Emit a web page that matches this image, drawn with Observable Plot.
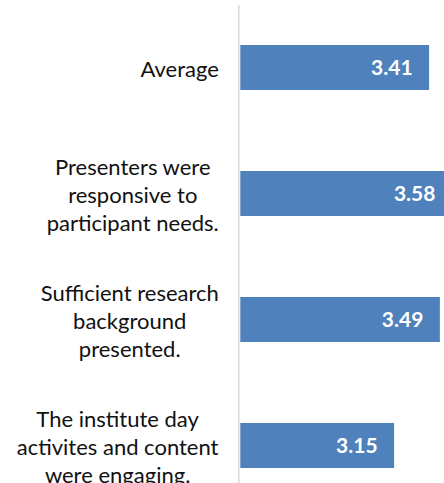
<!DOCTYPE html>
<html>
<head>
<meta charset="utf-8">
<script src="https://cdn.jsdelivr.net/npm/d3@7"></script>
<script src="https://cdn.jsdelivr.net/npm/@observablehq/plot@0.6"></script>
<style>
  html, body { margin: 0; padding: 0; background: #fff; overflow: hidden; }
  #chart svg { display: block; }
</style>
</head>
<body>
<div id="chart"></div>
<script>
const categories = [
  "Average",
  "Presenters were\nresponsive to\nparticipant needs.",
  "Sufficient research\nbackground\npresented.",
  "The institute day\nactivites and content\nwere engaging."
];
const values = [3.41, 3.58, 3.49, 3.15];
const axisMin = 2;
const axisMax = 4;

const data = categories.map((c, i) => ({ label: c, value: values[i] }));

const W = 444, H = 483;
const fontFamily = "Lato, 'Open Sans', sans-serif";

const chart = Plot.plot({
  width: W,
  height: H,
  marginTop: 5,
  marginBottom: 0,
  marginLeft: 239,
  marginRight: 0,
  style: { fontFamily, background: "#fff" },
  x: { domain: [axisMin, axisMax], range: [239.3, 508.5], axis: null },
  y: { domain: categories, range: [4.5, 508.5], paddingInner: 0.643, paddingOuter: 0.3215, align: 0.5, axis: null },
  marks: [
    Plot.ruleX([axisMin], { stroke: "#d9d9d9", strokeWidth: 1.5, dx: -1 }),
    Plot.barX(data, { x1: axisMin, x2: "value", y: "label", fill: "#4f81bd", insetLeft: 1 }),
    Plot.text(data, {
      x: "value", y: "label", text: d => d.value.toFixed(2),
      textAnchor: "end", dx: -17, fill: "white", fontWeight: "bold", fontSize: 21
    }),
    Plot.text(data, {
      x: axisMin, y: "label", text: "label",
      textAnchor: "end", dx: -21, lineAnchor: "middle", lineHeight: 1.29,
      fill: "#111", fontSize: 22, className: "cat-label"
    })
  ]
});
document.getElementById("chart").appendChild(chart);

// center each line of the wrapped category labels within its right-aligned block
chart.querySelectorAll(".cat-label text").forEach(t => {
  const w = t.getBBox().width;
  t.setAttribute("text-anchor", "middle");
  const tr = t.getAttribute("transform") || "";
  t.setAttribute("transform", tr + ` translate(${-w / 2},0)`);
});
</script>
</body>
</html>
